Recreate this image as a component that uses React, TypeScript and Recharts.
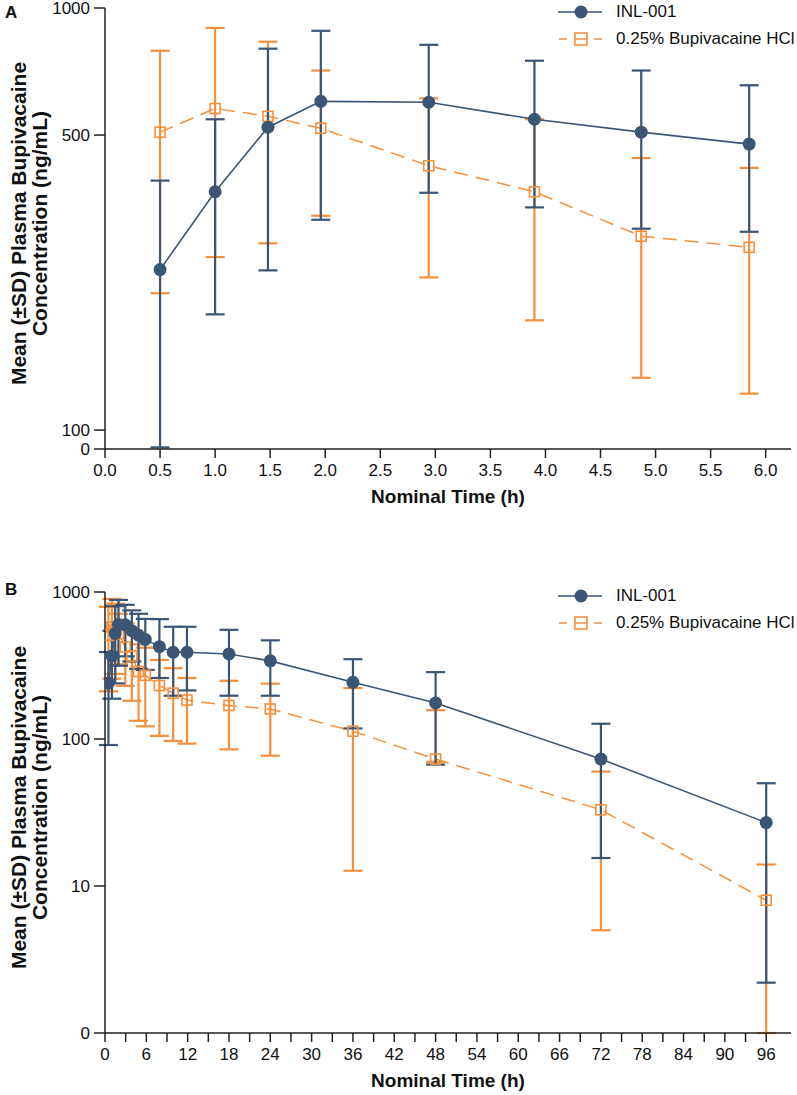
import React from "react";
import { LineChart, Line, XAxis, YAxis, ErrorBar } from "recharts";

const NAVY = "#3B5574";
const ORANGE = "#F68F3C";
const FONT = "'Liberation Sans', Arial, sans-serif";

// Panel A: first 6 h
const timeA = [0.5, 1.0, 1.48, 1.96, 2.94, 3.9, 4.87, 5.85];
const inlA = [240, 367, 522, 601, 598, 545, 508, 476];
const inlAHigh = [390, 545, 801, 883, 818, 750, 711, 656];
const inlALow = [91, 188, 239, 315, 365, 337, 300, 295];
const bupA = [508, 578, 554, 519, 423, 367, 288, 271];
const bupAHigh = [792, 897, 832, 711, 611, 545, 441, 418];
const bupALow = [211, 257, 277, 322, 230, 182, 133, 122];

// Panel B: full 96 h
const timeB = [0.5, 1.0, 1.48, 1.96, 2.94, 3.9, 4.87, 5.85, 7.9, 9.9, 11.9, 18, 24, 36, 48, 72, 96];
const inlB = [240, 367, 522, 601, 598, 545, 508, 476, 425, 389, 389, 379, 340, 243, 176, 73, 27];
const inlBHigh = [390, 545, 801, 883, 818, 750, 711, 656, 654, 580, 580, 553, 469, 349, 285, 127, 50];
const inlBLow = [91, 188, 239, 315, 365, 337, 300, 295, 260, 197, 214, 197, 197, 118, 67, 15.5, 2.2];
const bupB = [508, 578, 554, 519, 423, 367, 288, 271, 231, 205, 184, 169, 160, 113, 73, 33, 8];
const bupBHigh = [792, 897, 832, 711, 611, 545, 441, 418, 345, 303, 260, 249, 238, 222, 157, 60, 14];
const bupBLow = [211, 257, 277, 322, 230, 182, 133, 122, 105, 97, 93, 85, 77, 12.7, 70, 5, 1];

const ticksAX = [0, 0.5, 1, 1.5, 2, 2.5, 3, 3.5, 4, 4.5, 5, 5.5, 6];
const ticksAY = [90.2, 100, 500, 1000];
const ticksBX = [0, 3, 6, 9, 12, 15, 18, 21, 24, 27, 30, 33, 36, 39, 42, 45, 48, 51, 54, 57, 60, 63, 66, 69, 72, 75, 78, 81, 84, 87, 90, 93, 96];
const ticksBY = [1, 10, 100, 1000];

function buildRows(t: number[], inl: number[], inlHi: number[], inlLo: number[], bup: number[], bupHi: number[], bupLo: number[]) {
  return t.map((x, i) => ({
    t: x,
    inl: inl[i],
    inlErr: [inl[i] - inlLo[i], inlHi[i] - inl[i]],
    bup: bup[i],
    bupErr: [bup[i] - bupLo[i], bupHi[i] - bup[i]],
  }));
}

const SquareDot = (props: any) => {
  const { cx, cy, index } = props;
  if (cx == null || cy == null) return null;
  return <rect key={`sq-${index}`} x={cx - 5} y={cy - 5} width={10} height={10} fill="none" stroke={ORANGE} strokeWidth={1.6} />;
};

// legend drawn outside the chart so it does not eat plot width
const LegendBox = ({ top }: { top: number }) => (
  <div style={{ position: "absolute", left: 556, top, fontFamily: FONT, fontSize: 17, color: "#111" }}>
    <div style={{ display: "flex", alignItems: "center", height: 27 }}>
      <svg width={48} height={20} style={{ marginRight: 12 }}>
        <line x1={2} y1={10} x2={46} y2={10} stroke={NAVY} strokeWidth={1.5} />
        <circle cx={25} cy={10} r={6.5} fill={NAVY} />
      </svg>
      <span>INL-001</span>
    </div>
    <div style={{ display: "flex", alignItems: "center", height: 27 }}>
      <svg width={48} height={20} style={{ marginRight: 12 }}>
        <line x1={3} y1={10} x2={11} y2={10} stroke={ORANGE} strokeWidth={1.5} />
        <line x1={19} y1={10} x2={31} y2={10} stroke={ORANGE} strokeWidth={1.5} />
        <rect x={19} y={4} width={12} height={12} fill="none" stroke={ORANGE} strokeWidth={1.6} />
        <line x1={38} y1={10} x2={46} y2={10} stroke={ORANGE} strokeWidth={1.5} />
      </svg>
      <span>0.25% Bupivacaine HCl</span>
    </div>
  </div>
);

const YTitle = (props: any) => {
  const vb = props.viewBox || {};
  const cy = (vb.y || 0) + (vb.height || 0) / 2 - 5;
  return (
    <text transform={`translate(26,${cy}) rotate(-90)`} textAnchor="middle" fontFamily={FONT} fontWeight="bold" fontSize={21} fill="#111">
      <tspan x={0} dy={0}>Mean (±SD) Plasma Bupivacaine</tspan>
      <tspan x={0} dy={21}>Concentration (ng/mL)</tspan>
    </text>
  );
};

type PanelProps = {
  top: number;
  data: any[];
  xDomain: [number, number];
  xTicks: number[];
  xFmt: (v: number) => string;
  yDomain: [number, number];
  yTicks: number[];
  yFmt: (v: number) => string;
};

function Panel({ top, data, xDomain, xTicks, xFmt, yDomain, yTicks, yFmt }: PanelProps) {
  // plot area starts 18px below the panel top
  return (
    <div style={{ position: "absolute", left: 0, top, width: 797, height: 520 }}>
      <LineChart width={797} height={520} data={data} margin={{ top: 18, right: 6, bottom: 5, left: 0 }} style={{ fontFamily: FONT }}>
        <XAxis
          dataKey="t"
          type="number"
          domain={xDomain}
          ticks={xTicks}
          interval={0}
          tickFormatter={xFmt}
          allowDataOverflow
          axisLine={{ stroke: "#222", strokeWidth: 1.5 }}
          tickLine={{ stroke: "#222", strokeWidth: 1.5 }}
          tickSize={9}
          tickMargin={6}
          height={56}
          tick={{ fontSize: 17, fill: "#111", fontFamily: FONT }}
          label={{ value: "Nominal Time (h)", position: "insideBottom", offset: 2, style: { fontSize: 19, fontWeight: "bold", fill: "#111", fontFamily: FONT } }}
        />
        <YAxis
          scale="log"
          domain={yDomain}
          ticks={yTicks}
          interval={0}
          tickFormatter={yFmt}
          allowDataOverflow
          width={105}
          axisLine={{ stroke: "#222", strokeWidth: 1.5 }}
          tickLine={{ stroke: "#222", strokeWidth: 1.5 }}
          tickSize={11}
          tickMargin={4}
          tick={{ fontSize: 17, fill: "#111", fontFamily: FONT }}
          label={{ content: YTitle }}
        />
        <Line
          dataKey="bup"
          stroke={ORANGE}
          strokeWidth={1.5}
          strokeDasharray="14 8"
          dot={SquareDot}
          activeDot={false}
          isAnimationActive={false}
        >
          <ErrorBar dataKey="bupErr" direction="y" width={9.5} stroke={ORANGE} strokeWidth={2.2} isAnimationActive={false} />
        </Line>
        <Line
          dataKey="inl"
          stroke={NAVY}
          strokeWidth={1.6}
          dot={{ r: 6.5, fill: NAVY, stroke: NAVY, strokeWidth: 0 }}
          activeDot={false}
          isAnimationActive={false}
        >
          <ErrorBar dataKey="inlErr" direction="y" width={9.5} stroke={NAVY} strokeWidth={2.2} isAnimationActive={false} />
        </Line>
      </LineChart>
      <LegendBox top={8} />
    </div>
  );
}

const letterStyle: React.CSSProperties = { position: "absolute", left: 5, fontFamily: FONT, fontWeight: "bold", fontSize: 17, color: "#111" };

export default function App() {
  const dataA = buildRows(timeA, inlA, inlAHigh, inlALow, bupA, bupAHigh, bupALow);
  const dataB = buildRows(timeB, inlB, inlBHigh, inlBLow, bupB, bupBHigh, bupBLow);
  return (
    <div style={{ position: "absolute", left: 0, top: 0, width: 797, height: 1095, background: "#fff", overflow: "hidden" }}>
      <Panel
        top={-10}
        data={dataA}
        xDomain={[0, 6.23]}
        xTicks={ticksAX}
        xFmt={(v) => v.toFixed(1)}
        yDomain={[90.2, 1000]}
        yTicks={ticksAY}
        yFmt={(v) => (v < 95 ? "0" : String(v))}
      />
      <Panel
        top={574}
        data={dataB}
        xDomain={[0, 99.6]}
        xTicks={ticksBX}
        xFmt={(v) => (v % 6 === 0 ? String(v) : "")}
        yDomain={[1, 1000]}
        yTicks={ticksBY}
        yFmt={(v) => (v === 1 ? "0" : String(v))}
      />
      <div style={{ ...letterStyle, top: 3 }}>A</div>
      <div style={{ ...letterStyle, top: 580 }}>B</div>
    </div>
  );
}
